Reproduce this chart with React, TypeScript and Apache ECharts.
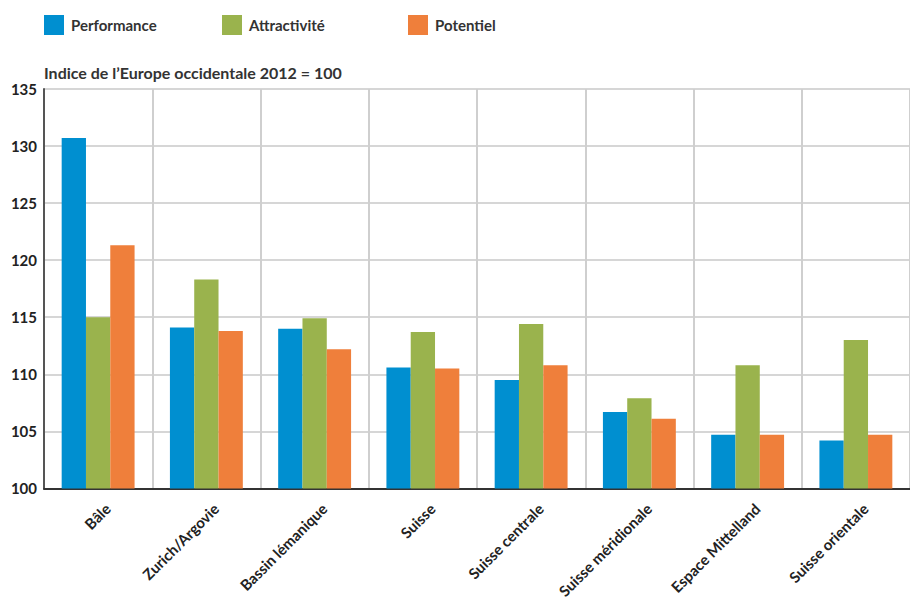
import React, { useEffect, useRef } from "react";
import * as echarts from "echarts";

const categories = [
  "Bâle",
  "Zurich/Argovie",
  "Bassin lémanique",
  "Suisse",
  "Suisse centrale",
  "Suisse méridionale",
  "Espace Mittelland",
  "Suisse orientale",
];
const performance = [130.7, 114.1, 114.0, 110.6, 109.5, 106.7, 104.7, 104.2];
const attractivite = [115.0, 118.3, 114.9, 113.7, 114.4, 107.9, 110.8, 113.0];
const potentiel = [121.3, 113.8, 112.2, 110.5, 110.8, 106.1, 104.7, 104.7];
const seriesNames = ["Performance", "Attractivité", "Potentiel"];
const colors = ["#008fd0", "#9ab34d", "#ef7f3b"];
const yTicks = { min: 100, max: 135, interval: 5 };

const FONT = "Lato, 'Open Sans', sans-serif";

export default function App() {
  const ref = useRef<HTMLDivElement>(null);
  useEffect(() => {
    if (!ref.current) return;
    const chart = echarts.init(ref.current, undefined, { renderer: "svg" });
    const legendLefts = [44, 222, 408];
    const values = [performance, attractivite, potentiel];
    chart.setOption({
      animation: false,
      textStyle: { fontFamily: FONT },
      title: {
        text: "Indice de l’Europe occidentale 2012 = 100",
        left: 39,
        top: 59,
        textStyle: { fontSize: 16, fontWeight: "bold", color: "#333", fontFamily: FONT },
      },
      legend: seriesNames.map((n, i) => ({
        data: [n],
        left: legendLefts[i],
        top: 15,
        padding: 0,
        itemWidth: 20,
        itemHeight: 20,
        itemGap: 0,
        icon: "rect",
        textStyle: { fontSize: 15, fontWeight: "bold", color: "#333", fontFamily: FONT, padding: [0, 0, 0, 2] },
        selectedMode: false,
      })),
      grid: { left: 44, top: 89, right: -6, bottom: 112 },
      xAxis: {
        type: "category",
        data: categories,
        axisLine: { lineStyle: { color: "#333", width: 2 } },
        axisTick: { show: false },
        splitLine: { show: true, interval: 0, lineStyle: { color: "#cfcfcf", width: 2 } },
        axisLabel: {
          interval: 0,
          rotate: 45,
          margin: 8,
          verticalAlign: "top",
          padding: [6, 0, 0, 0],
          fontSize: 15,
          fontWeight: "bold",
          color: "#222",
          fontFamily: FONT,
        },
      },
      yAxis: {
        type: "value",
        min: yTicks.min,
        max: yTicks.max,
        interval: yTicks.interval,
        axisLine: { show: true, lineStyle: { color: "#555", width: 2 } },
        axisTick: { show: false },
        splitLine: { lineStyle: { color: "#d6d6d6", width: 2 } },
        axisLabel: {
          fontSize: 15,
          fontWeight: "bold",
          color: "#222",
          margin: 7,
          fontFamily: FONT,
        },
      },
      series: seriesNames.map((n, i) => ({
        name: n,
        type: "bar",
        data: values[i],
        barWidth: 24.3,
        barGap: "0%",
        itemStyle: { color: colors[i] },
      })),
    });
    return () => chart.dispose();
  }, []);
  return <div ref={ref} style={{ width: 910, height: 601, position: "absolute", left: 0, top: 0 }} />;
}
